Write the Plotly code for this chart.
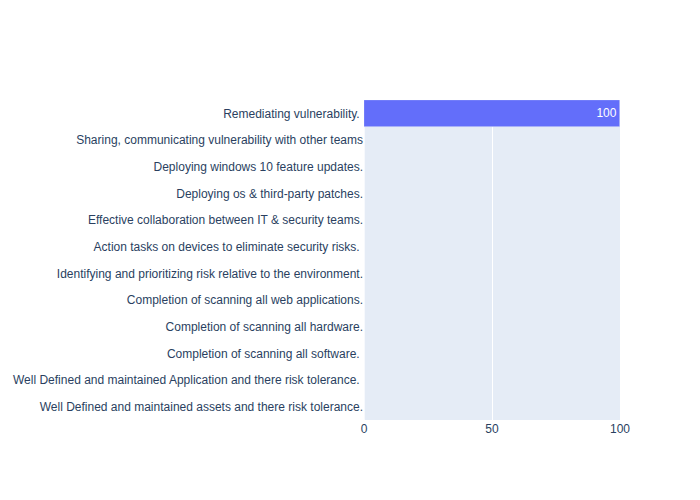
import plotly.graph_objects as go

# categories listed bottom -> top (plotly draws the first one at the bottom)
tasks = [
    "Well Defined and maintained assets and there risk tolerance.",
    "Well Defined and maintained Application and there risk tolerance. ",
    "Completion of scanning all software. ",
    "Completion of scanning all hardware.",
    "Completion of scanning all web applications.",
    "Identifying and prioritizing risk relative to the environment.",
    "Action tasks on devices to eliminate security risks. ",
    "Effective collaboration between IT & security teams.",
    "Deploying os & third-party patches.",
    "Deploying windows 10 feature updates.",
    "Sharing, communicating vulnerability with other teams",
    "Remediating vulnerability. ",
]
percent = [0, 0, 0, 0, 0, 0, 0, 0, 0, 0, 0, 100]
labels = [str(v) if v else "" for v in percent]

fig = go.Figure(go.Bar(
    x=percent,
    y=tasks,
    orientation="h",
    text=labels,
    textposition="inside",
))

# page body adds an 8px offset, so the figure is sized to fit the window
fig.update_layout(width=684, height=484,
                  margin=dict(l=356, r=72, t=92, b=72),
                  bargap=0,
                  font=dict(family="Arial, Liberation Sans, sans-serif"))
fig.update_xaxes(range=[0, 100])
fig.update_yaxes(automargin=False)

fig.write_html("out.html")
